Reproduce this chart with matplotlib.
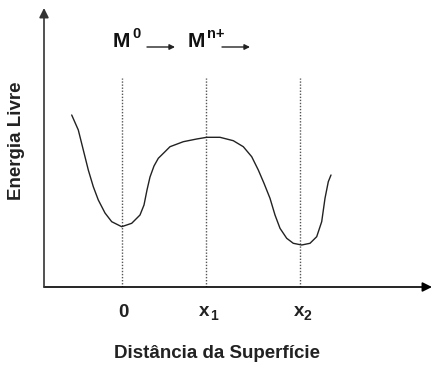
import matplotlib
matplotlib.use("Agg")
import matplotlib.pyplot as plt

plt.rcParams['font.family'] = ['Liberation Sans', 'DejaVu Sans']

# Curve (x: distance, y: free energy), arbitrary units
curve_x = [27.7, 34.3, 39.3, 44.3, 49.3, 54.3, 61, 67.7, 77.7, 87.7, 96, 100, 103,
           106, 110, 114.3, 121, 126, 139.3, 152.7, 162.7, 176, 189.3, 199.3, 207.7,
           214.3, 220, 226, 231, 236, 242.7, 249.3, 257.7, 266, 272.7, 277.7, 281,
           284.3, 287]
curve_y = [172, 157, 137, 117, 100.3, 87, 74, 65.3, 60.3, 63.7, 72, 82, 97,
           110, 121, 128.7, 135.3, 140.3, 145.3, 148, 149.7, 149.7, 146.3, 140.3, 130.3,
           117, 103.7, 88.7, 72, 58.7, 48.7, 43.7, 42, 43.7, 50.3, 65.3, 88.7,
           105.3, 112]

# Reference positions on the distance axis
ref_x = [78, 161.7, 256]
tick_main = ['0', 'x', 'x']
tick_sub = ['', '1', '2']
ref_top = 209

fig = plt.figure(figsize=(4.47, 3.71), dpi=100)
ax = fig.add_axes([44/447, 84/371, (432-44)/447, (287-8)/371])
ax.set_xlim(0, 388)
ax.set_ylim(0, 279)
ax.axis('off')

# axes arrows
ax.annotate('', xy=(388, 0), xytext=(0, 0),
            arrowprops=dict(arrowstyle='-|>', color='black', lw=1.2, mutation_scale=14,
                            shrinkA=0, shrinkB=0))
ax.annotate('', xy=(0, 279), xytext=(0, 0),
            arrowprops=dict(arrowstyle='-|>', color='#333333', lw=1.2, mutation_scale=14,
                            shrinkA=0, shrinkB=0))

for xv in ref_x:
    ax.plot([xv, xv], [0, ref_top], linestyle=(0, (1, 1.2)), color='#555555', lw=1.0)

ax.plot(curve_x, curve_y, color='#222222', lw=1.0, solid_joinstyle='round',
        solid_capstyle='round')

for xv, m, s in zip(ref_x, tick_main, tick_sub):
    if s:
        ax.text(xv + 4, -29, m, ha='right', va='baseline', fontsize=13.5,
                fontweight='bold', color='#222222')
        ax.text(xv + 4, -33, s, ha='left', va='baseline', fontsize=10,
                fontweight='bold', color='#222222')
    else:
        ax.text(xv + 1, -30, m, ha='center', va='baseline', fontsize=13.5,
                fontweight='bold', color='#222222')

ax.text(173, -67, 'Distância da Superfície', ha='center', va='center', fontsize=13.5,
        fontweight='bold', color='#222222')
fig.text(17/447, 1 - 141/371, 'Energia Livre', rotation=90, ha='center', va='center',
         fontsize=13.5, fontweight='bold', color='#222222')

# M0 -> Mn+ -> labels
ax.text(69, 240, 'M', ha='left', va='baseline', fontsize=15, fontweight='bold', color='#111111')
ax.text(88.5, 249, '0', ha='left', va='baseline', fontsize=10.5, fontweight='bold', color='#111111')
ax.text(144, 240, 'M', ha='left', va='baseline', fontsize=15, fontweight='bold', color='#111111')
ax.text(162.5, 249, 'n+', ha='left', va='baseline', fontsize=10.5, fontweight='bold', color='#111111')
ax.annotate('', xy=(131, 240), xytext=(103, 240),
            arrowprops=dict(arrowstyle='-|>', color='#222222', lw=1.0, mutation_scale=8,
                            shrinkA=0, shrinkB=0))
ax.annotate('', xy=(206, 240), xytext=(178, 240),
            arrowprops=dict(arrowstyle='-|>', color='#222222', lw=1.0, mutation_scale=8,
                            shrinkA=0, shrinkB=0))

fig.savefig('out.png', dpi=100)
